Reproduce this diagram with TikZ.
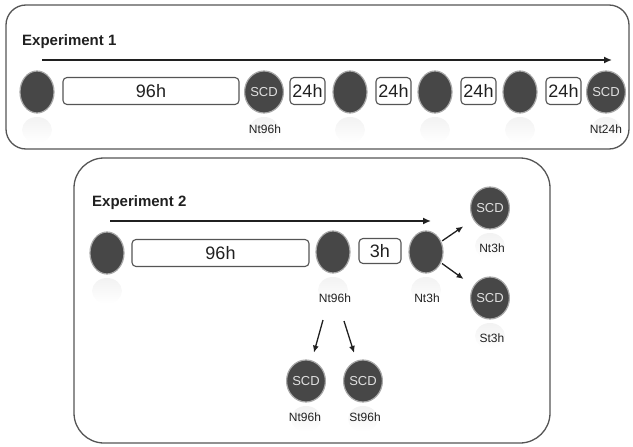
\documentclass[tikz,border=0pt]{standalone}
\usepackage{fontspec}
\setmainfont{Liberation Sans}
\usetikzlibrary{arrows.meta,shapes.geometric}
\definecolor{ball}{HTML}{474747}
\definecolor{rim}{HTML}{A8A8A8}
\definecolor{frame}{HTML}{555555}
\definecolor{ink}{HTML}{202020}
\tikzset{
  ball/.style={ellipse, minimum width=34pt, minimum height=42pt, inner sep=0pt,
    fill=ball, draw=rim, line width=1.2pt, text=black!12,
    font=\fontsize{13}{14}\selectfont},
  refl/.style={top color=black!5, bottom color=white, draw=none},
  tbox/.style={rectangle, rounded corners=4pt, draw=frame, line width=1.1pt, fill=white,
    minimum height=27pt, inner sep=0pt, font=\fontsize{18}{20}\selectfont, text=ink},
  lab/.style={font=\fontsize{12}{13}\selectfont, text=ink, inner sep=0pt},
  ttl/.style={font=\fontsize{15}{17}\selectfont\bfseries, text=ink, inner sep=0pt, anchor=west},
  frm/.style={draw=frame, line width=1.3pt},
  arr/.style={-{Latex[length=8pt,width=7pt]}, line width=1.5pt, draw=ink},
  sarr/.style={-{Latex[length=7pt,width=6pt]}, line width=1.3pt, draw=ink}
}
\begin{document}
\begin{tikzpicture}[x=1pt,y=-1pt]
\useasboundingbox (0,0) rectangle (633,447);
% frames
\draw[frm, rounded corners=20pt] (6,5) rectangle (629,149);
\draw[frm, rounded corners=30pt] (74,158) rectangle (550,443);
% faint reflections
\foreach \x/\y in {37/92,264/92,350/92,435/92,520/92,606/92,107/253,333/252,426/252,490/208,490/298,306/381,363/381}
  \shade[refl] (\x,\y+38) ellipse (15pt and 13pt);
% Experiment 1
\node[ttl] (t1) at (22,42) {Experiment 1};
\coordinate (a1s) at (42,60);
\coordinate (a1e) at (612,60);
\draw[arr] (a1s) -- (a1e);
\node[ball] (c11) at (37,92) {};
\node[ball] (c12) at (264,92) {SCD};
\node[ball] (c13) at (350,92) {};
\node[ball] (c14) at (435,92) {};
\node[ball] (c15) at (520,92) {};
\node[ball] (c16) at (606,92) {SCD};
\node[tbox, minimum width=176pt] (b11) at (151,91) {96h};
\node[tbox, minimum width=35pt] (b12) at (307.5,91) {24h};
\node[tbox, minimum width=35pt] (b13) at (393.5,91) {24h};
\node[tbox, minimum width=35pt] (b14) at (478.5,91) {24h};
\node[tbox, minimum width=35pt] (b15) at (563.5,91) {24h};
\node[lab] (l11) at (265,129) {Nt96h};
\node[lab] (l12) at (606,129) {Nt24h};
% Experiment 2
\node[ttl] (t2) at (92,203) {Experiment 2};
\coordinate (a2s) at (110,221);
\coordinate (a2e) at (431,221);
\draw[arr] (a2s) -- (a2e);
\node[ball] (c21) at (107,253) {};
\node[ball] (c22) at (333,252) {};
\node[ball] (c23) at (426,252) {};
\node[ball] (c24) at (490,208) {SCD};
\node[ball] (c25) at (490,298) {SCD};
\node[ball] (c26) at (306,381) {SCD};
\node[ball] (c27) at (363,381) {SCD};
\node[tbox, minimum width=177pt] (b21) at (220.5,253) {96h};
\node[tbox, minimum width=42pt, minimum height=25pt] (b22) at (380,251) {3h};
\node[lab] (l21) at (335,298) {Nt96h};
\node[lab] (l22) at (427,298) {Nt3h};
\node[lab] (l23) at (492,248) {Nt3h};
\node[lab] (l24) at (492,338) {St3h};
\node[lab] (l25) at (305,417) {Nt96h};
\node[lab] (l26) at (365,417) {St96h};
\draw[sarr, shorten <=1pt, shorten >=12pt] (c23) -- (c24);
\draw[sarr, shorten <=1pt, shorten >=12pt] (c23) -- (c25);
\coordinate (s1) at (323,320);
\coordinate (s2) at (344,321);
\draw[sarr, shorten >=8pt] (s1) -- (c26);
\draw[sarr, shorten >=8pt] (s2) -- (c27);
\end{tikzpicture}
\end{document}
